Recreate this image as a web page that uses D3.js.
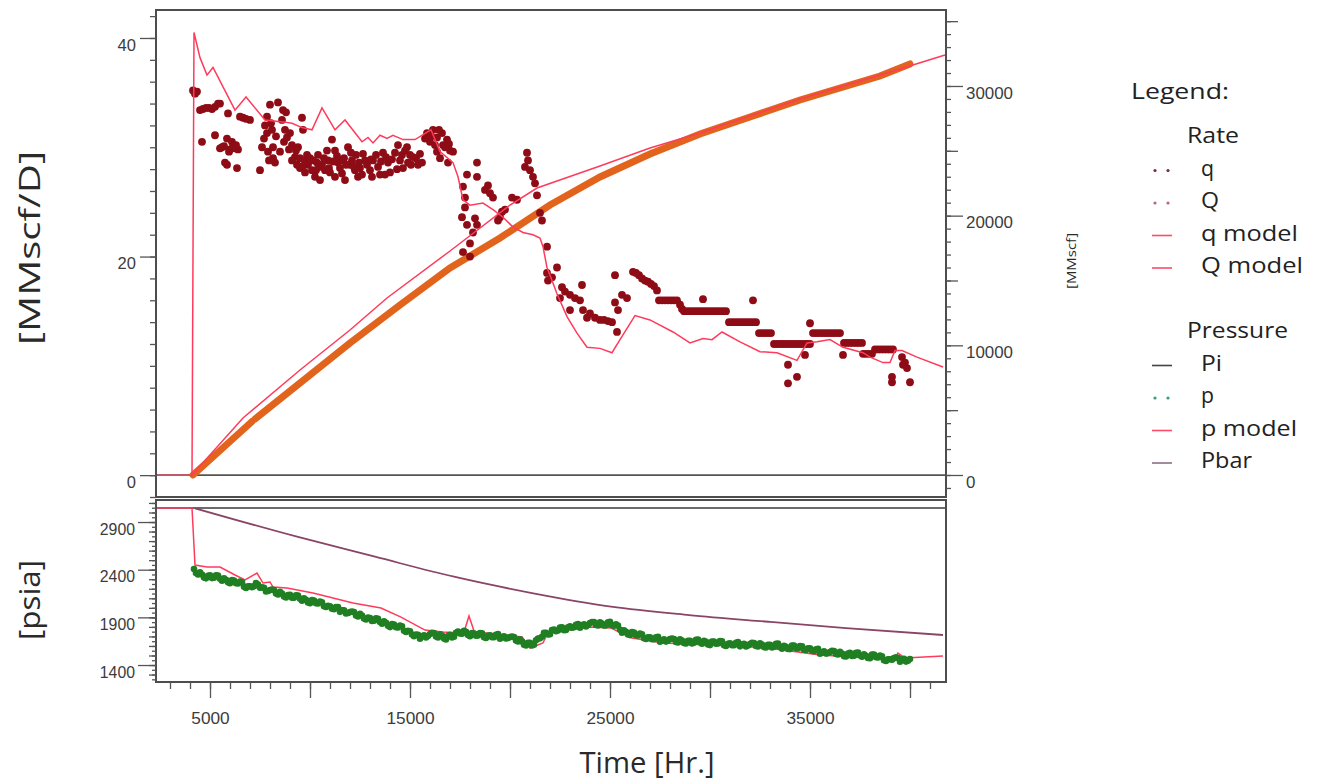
<!DOCTYPE html>
<html>
<head>
<meta charset="utf-8">
<script src="https://cdn.jsdelivr.net/npm/d3@7/dist/d3.min.js"></script>
<style>
  body { margin: 0; background: #fff; }
  svg { display: block; }
</style>
</head>
<body>
<svg id="chart" width="1319" height="782"></svg>
<script>
// ---------- data ----------
// gas rate measurements [time hr, MMscf/D]
const qData = [
  [4150,35.2],[4250,34.9],[4350,35.1],
  [4500,33.4],[4650,33.5],[4800,33.6],[4950,33.6],[5100,33.5],[5250,33.7],[5400,34.0],[5500,34.0],
  [5900,33.1],[6500,32.8],[6650,32.7],[6800,32.6],[7000,32.5],
  [4600,30.5],[5250,31.1],[5500,29.9],[5700,30.1],[5850,30.8],[6000,29.8],[6100,30.5],[6250,29.9],[6400,29.8],
  [5600,30.0],[5950,29.6],[6150,30.0],[6300,30.2],
  [5750,28.6],[5850,28.4],[6350,28.1],
  [7500,27.9],[7600,30.0],[7850,31.3],[8000,33.9],[7850,32.8],[7750,32.0],[8150,30.0],[8150,29.0],[8250,28.6],[7700,30.8],[7900,29.6],
  [8050,32.2],[8300,31.0],[8500,29.6],[8700,30.5],[8950,29.8],[7950,28.8],[8100,31.6],
  [8400,34.1],[8650,33.4],[8600,32.5],[8750,31.6],[8850,30.9],[9000,31.3],[9100,30.2],[8800,33.2],
  [9600,32.7],[9650,31.6],[9400,30.0],[9250,29.1],[9500,29.0],[9750,28.8],[10000,29.0],[10350,28.6],[10250,27.3],[10500,27.0],
  [10750,27.9],[10900,28.8],[11100,30.7],[11250,29.7],[11400,28.6],[11600,27.6],[11250,27.3],[11750,27.0],[11900,30.0],
  [12100,28.8],[12250,27.9],[12400,27.3],[12750,28.8],[13000,27.9],[13100,27.3],
  [9900,28.4],[10100,27.9],[10600,28.4],[11000,27.7],[11500,28.1],[12000,28.4],[12500,28.1],[12600,27.5],[9500,28.1],
  [9750,27.7],[9300,29.7],[10400,29.3],[10850,29.7],[11700,29.0],[12300,29.3],[9100,28.8],
  [9350,28.4],[9650,28.3],[9850,29.3],[10150,28.8],[10300,27.9],[10450,28.2],[10700,29.0],[10950,28.1],[11150,28.7],
  [11350,29.2],[11550,28.8],[11800,28.4],[12050,29.5],[12200,28.2],[12450,28.6],[12650,29.4],[12850,28.4],[13050,28.9],
  [13150,28.8],[13400,28.2],[13650,29.5],[13750,27.5],[14000,27.7],[13300,29.3],[13500,27.5],[13900,28.6],
  [13550,28.7],[13800,29.1],[14100,28.9],[14350,28.0],[14600,29.3],[14850,30.0],[15050,28.4],[15300,29.0],[15500,29.4],
  [14250,29.5],[14500,28.8],[14750,29.7],[14900,28.6],[15150,29.1],[15400,28.4],[15600,28.6],[14400,30.2],[15000,29.3],[14650,28.1],
  [15850,31.3],[16000,30.5],[16350,30.9],[16600,31.3],[16850,30.7],[17000,29.7],[17150,29.6],[16900,28.6],[16350,29.6],
  [16650,30.2],[16150,31.6],[15750,30.8],
  [16050,31.0],[16250,30.2],[16450,31.6],[16750,30.0],[16500,29.0],[16950,30.3],
  [17650,26.4],[17750,25.4],[17750,24.5],[17600,23.6],[17850,22.9],[18350,28.6],[17850,27.5],[18350,27.3],[18000,21.2],
  [17650,20.4],[18000,20.0],[18250,23.5],[18350,22.9],[18150,22.2],
  [18750,26.1],[19000,25.8],[19150,25.4],[18900,26.5],
  [19500,23.6],[19750,24.3],[19600,24.1],[19400,23.3],
  [20100,25.4],[20350,25.2],
  [20850,29.5],[20750,28.2],[21000,27.9],[21150,27.3],[21250,26.7],[21350,25.6],[21500,24.0],[21600,23.3],[20900,28.8],
  [21850,20.9],[21850,18.5],[21900,17.8],[22100,18.1],[22350,19.0],[22600,17.2],
  [22750,16.8],[23000,16.5],[23250,16.2],[23500,16.0],[23600,17.4],[22500,16.2],[23000,15.1],
  [23650,15.1],[23850,14.4],[24000,14.8],[24250,14.4],[24500,14.2],[24700,14.2],[24900,14.1],[25100,14.0],[25350,13.1],
  [25250,18.3],[25250,15.8],[25400,15.1],[25600,16.5],[25850,16.2],
  [26150,18.6],[26300,18.5],[26450,18.3],[26600,18.0],[26750,17.8],[26900,17.7],[27050,17.5],[27200,17.3],[27350,16.9],
  [27450,16.0],[27600,16.0],[27750,16.0],[27900,16.0],[28050,16.0],[28200,16.0],[28350,16.0],
  [28500,15.6],[28600,15.2],
  [28700,15.0],[28850,15.0],[29000,15.0],[29150,15.0],[29300,15.0],[29450,15.0],[29600,15.0],[29750,15.0],[29900,15.0],
  [30050,15.0],[30200,15.0],[30350,15.0],[30500,15.0],[30650,15.0],[30800,15.0],
  [29650,16.1],
  [30950,14.0],[31100,14.0],[31250,14.0],[31400,14.0],[31550,14.0],[31700,14.0],[31850,14.0],[32000,14.0],[32150,14.0],[32300,14.0],
  [32150,16.0],
  [32450,13.0],[32600,13.0],[32750,13.0],[32900,13.0],[33050,13.0],
  [33200,12.0],[33350,12.0],[33500,12.0],[33650,12.0],[33800,12.0],[33950,12.0],[34100,12.0],[34250,12.0],[34400,12.0],
  [34550,12.0],[34700,12.0],[34850,12.0],[35000,12.0],
  [35000,13.9],[34750,11.0],[33900,10.1],[34350,9.0],[33900,8.4],
  [35150,13.0],[35300,13.0],[35450,13.0],[35600,13.0],[35750,13.0],[35900,13.0],[36050,13.0],[36200,13.0],[36350,13.0],[36500,13.0],
  [36650,11.0],
  [36700,12.1],[36850,12.1],[37000,12.1],[37150,12.1],[37300,12.1],[37450,12.1],[37600,12.1],
  [37650,11.1],[37800,11.1],[37950,11.1],[38100,11.1],
  [38250,11.5],[38400,11.5],[38550,11.5],[38700,11.5],[38850,11.5],[39000,11.5],[39150,11.5],
  [39100,9.0],[39100,8.5],[39600,10.8],[39650,10.1],[39850,9.8],[40000,8.5],[39750,10.3]
];

// rate model [time hr, MMscf/D]
const qModel = [
  [2300,0],[4100,0],[4200,40.5],[4500,38.2],[4850,36.6],[5150,37.3],[6250,33.4],[6800,34.6],[7750,32.5],[8750,32.3],
  [9100,32.2],[9600,31.8],[10100,31.6],[10600,33.6],[11250,31.6],[11750,32.5],[12600,30.5],[12900,30.9],[13150,30.4],
  [13500,31.1],[13850,30.8],[14150,31.1],[14650,30.7],[15250,30.7],[16050,31.6],[16500,29.6],[17150,28.6],[17400,27.3],
  [17650,25.2],[18000,24.7],[18650,24.9],[19150,24.3],[19650,23.6],[20150,22.7],[20650,22.2],[21150,22.0],[21500,21.7],
  [21650,20.9],[21850,19.0],[22100,17.8],[22350,16.6],[22850,14.5],[23350,13.0],[23850,11.7],[24500,11.6],[25100,11.2],
  [25500,12.4],[26250,14.6],[27000,14.2],[28150,13.1],[29000,12.1],[29650,12.5],[30100,12.4],[30600,13.1],[31500,12.2],
  [32500,11.3],[33350,11.2],[34350,10.5],[34850,12.1],[35350,12.2],[36000,12.4],[36650,11.7],[37650,11.2],[38000,10.8],
  [38650,10.3],[39000,10.3],[39250,11.4],[39600,11.4],[40350,10.8],[41650,9.9]
];

// cumulative production [time hr, MMscf]; null marks a gap in the record
const cumData = [
  [4150,0],[7100,4126],[7175,null],[7250,4319],[9500,7095],[12000,10180],[14500,13110],
  [17000,15964],[19500,18277],[22000,20822],[24500,22982],[27000,24756],[29500,26298],[32000,27609],
  [34500,28920],[37000,30077],[38500,30771],[40000,31700]
];

// cumulative model [time hr, MMscf]
const cumModel = [
  [4100,0],[6650,4396],[9500,8098],[12000,11182],[13850,13650],[17000,17275],[20000,20822],[21350,22133],
  [24500,23830],[27000,25218],[29500,26375],[32000,27686],[34500,28997],[37000,30154],[39500,31311],[41750,32390]
];

// initial pressure, psia
const piValue = 3047;

// measured flowing pressure [time hr, psia]
const pData = [
  [4200,2406],[4400,2350],[4600,2349],[4800,2309],[5000,2340],[5200,2315],[5400,2338],[5600,2284],[5800,2295],[6000,2259],
  [6200,2286],[6400,2255],[6600,2268],[6800,2209],[7000,2226],[7200,2227],[7400,2245],[7600,2215],[7800,2171],[8000,2186],
  [8200,2186],[8400,2140],[8600,2150],[8800,2109],[9000,2136],[9200,2105],[9400,2128],[9600,2074],[9800,2085],[10000,2049],
  [10200,2076],[10400,2045],[10600,2058],[10800,2009],[11000,2016],[11200,1986],[11400,2009],[11600,1974],[11800,1940],[12000,1955],
  [12200,1955],[12400,1909],[12600,1919],[12800,1878],[13000,1894],[13200,1864],[13400,1886],[13600,1833],[13800,1844],[14000,1798],
  [14200,1824],[14400,1794],[14600,1806],[14800,1747],[15000,1754],[15200,1703],[15400,1716],[15600,1701],[15800,1688],[16000,1725],
  [16200,1735],[16400,1689],[16600,1709],[16800,1669],[17000,1716],[17200,1696],[17400,1750],[17600,1728],[17800,1749],[18000,1703],
  [18200,1730],[18400,1710],[18600,1733],[18800,1684],[19000,1712],[19200,1692],[19400,1726],[19600,1691],[19800,1678],[20000,1693],
  [20200,1693],[20400,1647],[20600,1646],[20800,1606],[21000,1632],[21200,1612],[21400,1677],[21600,1697],[21800,1739],[22000,1724],
  [22200,1772],[22400,1762],[22600,1796],[22800,1768],[23000,1807],[23200,1797],[23400,1831],[23600,1817],[23800,1804],[24000,1840],
  [24200,1850],[24400,1815],[24600,1835],[24800,1816],[25000,1853],[25200,1812],[25400,1813],[25600,1739],[25800,1749],[26000,1714],
  [26200,1740],[26400,1710],[26600,1722],[26800,1674],[27000,1691],[27200,1671],[27400,1695],[27600,1659],[27800,1646],[28000,1672],
  [28200,1672],[28400,1637],[28600,1657],[28800,1627],[29000,1653],[29200,1633],[29400,1666],[29600,1623],[29800,1644],[30000,1609],
  [30200,1646],[30400,1626],[30600,1649],[30800,1600],[31000,1628],[31200,1608],[31400,1642],[31600,1617],[31800,1594],[32000,1620],
  [32200,1630],[32400,1595],[32600,1615],[32800,1585],[33000,1611],[33200,1591],[33400,1624],[33600,1571],[33800,1592],[34000,1567],
  [34200,1604],[34400,1573],[34600,1596],[34800,1558],[35000,1576],[35200,1545],[35400,1569],[35600,1533],[35800,1520],[36000,1536],
  [36200,1546],[36400,1511],[36600,1520],[36800,1490],[37000,1527],[37200,1497],[37400,1530],[37600,1487],[37800,1497],[38000,1472],
  [38200,1509],[38400,1479],[38600,1491],[38800,1443],[39000,1460],[39200,1472],[39400,1474],[39600,1460],[39800,1436],[40000,1462],
  [4300,2366],[4500,2373],[4700,2317],[4900,2337],[5100,2312],[5300,2342],[5500,2304],[5700,2309],[5900,2267],[6100,2292],
  [6300,2258],[6500,2275],[6700,2222],[6900,2226],[7100,2217],[7300,2259],[7500,2210],[7700,2211],[7900,2176],[8100,2193],
  [8300,2151],[8500,2168],[8700,2118],[8900,2135],[9100,2105],[9300,2132],[9500,2094],[9700,2099],[9900,2057],[10100,2082],
  [10300,2048],[10500,2065],[10700,2017],[10900,2021],[11100,1991],[11300,2007],[11500,1958],[11700,1975],[11900,1945],[12100,1962],
  [12300,1920],[12500,1937],[12700,1887],[12900,1899],[13100,1863],[13300,1891],[13500,1852],[13700,1858],[13900,1811],[14100,1831],
  [14300,1796],[14500,1814],[14700,1760],[14900,1759],[15100,1719],[15300,1719],[15500,1675],[15700,1712],[15900,1704],[16100,1737],
  [16300,1700],[16500,1722],[16700,1677],[16900,1705],[17100,1690],[17300,1739],[17500,1732],[17700,1758],[17900,1716],[18100,1736],
  [18300,1707],[18500,1735],[18700,1692],[18900,1706],[19100,1692],[19300,1718],[19500,1675],[19700,1702],[19900,1683],[20100,1700],
  [20300,1658],[20500,1670],[20700,1614],[20900,1632],[21100,1606],[21300,1660],[21500,1680],[21700,1738],[21900,1721],[22100,1768],
  [22300,1754],[22500,1793],[22700,1765],[22900,1796],[23100,1792],[23300,1823],[23500,1791],[23700,1828],[23900,1819],[24100,1852],
  [24300,1820],[24500,1848],[24700,1814],[24900,1847],[25100,1817],[25300,1828],[25500,1769],[25700,1764],[25900,1721],[26100,1747],
  [26300,1712],[26500,1730],[26700,1681],[26900,1691],[27100,1671],[27300,1692],[27500,1644],[27700,1670],[27900,1656],[28100,1679],
  [28300,1642],[28500,1670],[28700,1630],[28900,1653],[29100,1627],[29300,1665],[29500,1637],[29700,1653],[29900,1616],[30100,1647],
  [30300,1623],[30500,1651],[30700,1608],[30900,1622],[31100,1608],[31300,1634],[31500,1596],[31700,1623],[31900,1604],[32100,1632],
  [32300,1600],[32500,1628],[32700,1588],[32900,1611],[33100,1585],[33300,1623],[33500,1590],[33700,1601],[33900,1569],[34100,1605],
  [34300,1576],[34500,1598],[34700,1560],[34900,1575],[35100,1551],[35300,1566],[35500,1518],[35700,1544],[35900,1525],[36100,1548],
  [36300,1516],[36500,1539],[36700,1493],[36900,1521],[37100,1496],[37300,1529],[37500,1501],[37700,1512],[37900,1474],[38100,1510],
  [38300,1481],[38500,1499],[38700,1450],[38900,1460],[39100,1456],[39300,1482],[39500,1434],[39700,1466],[39900,1446]
];

// pressure model [time hr, psia]
const pModel = [
  [2300,3047],[4100,3047],[4250,2449],[4850,2428],[5500,2428],[6250,2344],[6750,2292],[7350,2365],[7650,2260],[8000,2271],
  [8150,2218],[8850,2208],[10150,2155],[12150,2050],[13550,1998],[14550,1903],[15750,1767],[16650,1746],[17450,1736],
  [17700,1746],[17950,1914],[18200,1757],[18350,1746],[19800,1715],[20600,1694],[21000,1578],[21650,1631],[21900,1746],
  [22950,1767],[24000,1799],[25050,1788],[26100,1683],[27650,1631],[30250,1610],[32900,1578],[35500,1505],[38100,1473],
  [39150,1442],[39400,1526],[39750,1473],[41650,1494]
];

// average reservoir pressure [time hr, psia]
const pbarModel = [
  [4250,3044],[9350,2746],[13250,2536],[17200,2326],[21100,2155],[25050,2012],[28950,1924],[32900,1854],[36800,1788],[41650,1715]
];

// axis tick labels
const rateTickLabels = [0, 20, 40];
const cumTickLabels = [0, 10000, 20000, 30000];
const pressureTickLabels = [1400, 1900, 2400, 2900];
const timeTickLabels = [5000, 15000, 25000, 35000];

// legend entries
const legendGroups = [
  { title: "Rate", items: [
    { label: "q", kind: "dots", color: "#7a2a3a" },
    { label: "Q", kind: "dots", color: "#b86878" },
    { label: "q model", kind: "line", color: "#ff4a6a" },
    { label: "Q model", kind: "line", color: "#ff4a6a" }
  ]},
  { title: "Pressure", items: [
    { label: "Pi", kind: "line", color: "#444" },
    { label: "p", kind: "dots", color: "#3a9a80" },
    { label: "p model", kind: "line", color: "#ff4a6a" },
    { label: "Pbar", kind: "line", color: "#8a7080" }
  ]}
];

// ---------- layout ----------
const svg = d3.select("#chart");
const left = 156, right = 946;
const top1 = 10, bot1 = 497;   // rate panel
const top2 = 500, bot2 = 682;  // pressure panel
const FONT = "'Open Sans', 'Noto Sans', sans-serif";
const TICKFONT = "'Liberation Sans', Arial, sans-serif";
const modelColor = "#ff3b5c";
const plain = d3.format("d");

const x = d3.scaleLinear().domain([2300, 41750]).range([left, 945]);
const yRate = d3.scaleLinear().domain([-2.0, 42.56]).range([bot1, top1]);
const yCum = d3.scaleLinear().domain([-1697, 35860]).range([bot1, top1]);
const yP = d3.scaleLinear().domain([1222, 3131]).range([bot2, top2]);

const defs = svg.append("defs");
defs.append("clipPath").attr("id", "clipTop")
  .append("rect").attr("x", left).attr("y", top1).attr("width", right - left).attr("height", bot1 - top1);
defs.append("clipPath").attr("id", "clipBot")
  .append("rect").attr("x", left).attr("y", top2).attr("width", right - left).attr("height", bot2 - top2);

// ---------- rate panel ----------
const gTop = svg.append("g").attr("clip-path", "url(#clipTop)");

// zero baseline
gTop.append("line")
  .attr("x1", left).attr("x2", right)
  .attr("y1", yRate(0)).attr("y2", yRate(0))
  .attr("stroke", "#555").attr("stroke-width", 1.6);

// cumulative production (dense orange band)
gTop.append("path")
  .datum(cumData)
  .attr("fill", "none")
  .attr("stroke", "#e2641c")
  .attr("stroke-width", 7)
  .attr("stroke-linecap", "round")
  .attr("d", d3.line().defined(d => d[1] !== null).x(d => x(d[0])).y(d => yCum(d[1])));

// rate points
gTop.append("g").selectAll("circle")
  .data(qData).join("circle")
  .attr("cx", d => x(d[0])).attr("cy", d => yRate(d[1]))
  .attr("r", 3.9)
  .attr("fill", "#8e0c16");

// cumulative model
gTop.append("path")
  .datum(cumModel)
  .attr("fill", "none").attr("stroke", modelColor).attr("stroke-width", 1.5)
  .attr("d", d3.line().x(d => x(d[0])).y(d => yCum(d[1])));

// rate model
gTop.append("path")
  .datum(qModel)
  .attr("fill", "none").attr("stroke", modelColor).attr("stroke-width", 1.5)
  .attr("d", d3.line().x(d => x(d[0])).y(d => yRate(d[1])));

// ---------- pressure panel ----------
const gBot = svg.append("g").attr("clip-path", "url(#clipBot)");

gBot.append("line")
  .attr("x1", left).attr("x2", right)
  .attr("y1", yP(piValue)).attr("y2", yP(piValue))
  .attr("stroke", "#3a3a3a").attr("stroke-width", 1.6);

gBot.append("path")
  .datum(pbarModel)
  .attr("fill", "none").attr("stroke", "#8a4466").attr("stroke-width", 1.8)
  .attr("d", d3.line().x(d => x(d[0])).y(d => yP(d[1])).curve(d3.curveMonotoneX));

gBot.append("path")
  .datum(pModel)
  .attr("fill", "none").attr("stroke", modelColor).attr("stroke-width", 1.5)
  .attr("d", d3.line().x(d => x(d[0])).y(d => yP(d[1])));

gBot.append("g").selectAll("circle")
  .data(pData).join("circle")
  .attr("cx", d => x(d[0])).attr("cy", d => yP(d[1]))
  .attr("r", 3.3)
  .attr("fill", "#1f7f22");

// ---------- frames ----------
[[top1, bot1], [top2, bot2]].forEach(([t, b]) => {
  svg.append("rect")
    .attr("x", left).attr("y", t).attr("width", right - left).attr("height", b - t)
    .attr("fill", "none").attr("stroke", "#4d4d4d").attr("stroke-width", 2);
});

// ---------- axes ----------
function styleAxis(g, fontSize, digitW, dy) {
  g.select(".domain").remove();
  g.selectAll("line").attr("stroke", "#555").attr("stroke-width", 1.3);
  const t = g.selectAll("text")
    .attr("font-family", TICKFONT)
    .attr("font-size", fontSize)
    .attr("fill", "#3c3c3c")
    .attr("textLength", d => plain(d).length * digitW)
    .attr("lengthAdjust", "spacingAndGlyphs");
  if (dy) t.attr("dy", dy);
}
function minorAxis(axis, values, size) {
  return axis.tickValues(values).tickSize(size).tickFormat("").tickSizeOuter(0);
}
function majorAxis(axis, values, size, pad) {
  return axis.tickValues(values).tickSize(size).tickPadding(pad).tickFormat(plain).tickSizeOuter(0);
}

// left rate axis
svg.append("g").attr("transform", `translate(${left},0)`)
  .call(minorAxis(d3.axisLeft(yRate), d3.range(-2, 43, 2), 6))
  .call(g => styleAxis(g, 17, 9.2));
svg.append("g").attr("transform", `translate(${left},0)`)
  .call(majorAxis(d3.axisLeft(yRate), rateTickLabels, 16, 4))
  .call(g => styleAxis(g, 17, 9.2, "0.72em"));

// right cumulative axis
svg.append("g").attr("transform", `translate(${right},0)`)
  .call(minorAxis(d3.axisRight(yCum), d3.range(-1000, 35001, 1000), 5))
  .call(g => styleAxis(g, 17, 9.4));
svg.append("g").attr("transform", `translate(${right},0)`)
  .call(minorAxis(d3.axisRight(yCum), d3.range(5000, 35001, 10000), 12))
  .call(g => styleAxis(g, 17, 9.4));
svg.append("g").attr("transform", `translate(${right},0)`)
  .call(majorAxis(d3.axisRight(yCum), cumTickLabels, 17, 3))
  .call(g => styleAxis(g, 17, 9.4, "0.72em"));

// left pressure axis
svg.append("g").attr("transform", `translate(${left},0)`)
  .call(minorAxis(d3.axisLeft(yP), d3.range(1250, 3101, 50), 4))
  .call(g => styleAxis(g, 17, 8.8));
svg.append("g").attr("transform", `translate(${left},0)`)
  .call(minorAxis(d3.axisLeft(yP), d3.range(1300, 3101, 100), 7))
  .call(g => styleAxis(g, 17, 8.8));
svg.append("g").attr("transform", `translate(${left},0)`)
  .call(majorAxis(d3.axisLeft(yP), pressureTickLabels, 18, 3))
  .call(g => styleAxis(g, 17, 8.8, "0.72em"));

// time axis
svg.append("g").attr("transform", `translate(0,${bot2})`)
  .call(minorAxis(d3.axisBottom(x), d3.range(3000, 41001, 1000), 7))
  .call(g => styleAxis(g, 17, 9.6));
svg.append("g").attr("transform", `translate(0,${bot2})`)
  .call(minorAxis(d3.axisBottom(x), d3.range(10000, 40001, 10000), 16))
  .call(g => styleAxis(g, 17, 9.6));
svg.append("g").attr("transform", `translate(0,${bot2})`)
  .call(majorAxis(d3.axisBottom(x), timeTickLabels, 16, 14))
  .call(g => styleAxis(g, 17, 9.6));

// ---------- axis titles ----------
function title(txt, px, py, size, len, rot) {
  svg.append("text")
    .attr("transform", `translate(${px},${py}) rotate(${rot})`)
    .attr("text-anchor", "middle")
    .attr("font-family", FONT)
    .attr("font-size", size)
    .attr("fill", "#2a2a2a")
    .attr("textLength", len)
    .attr("lengthAdjust", "spacingAndGlyphs")
    .text(txt);
}
title("[MMscf/D]", 40, 248, 30, 194, -90);
title("[psia]", 40, 600, 30, 80, -90);
title("[MMscf]", 1076, 261, 13, 56, -90);
title("Time [Hr.]", 647, 773, 29, 135, 0);

// ---------- legend ----------
const lg = svg.append("g").attr("font-family", FONT).attr("fill", "#222");
lg.append("text").attr("x", 1131).attr("y", 99).attr("font-size", 21)
  .attr("textLength", 98).attr("lengthAdjust", "spacingAndGlyphs").text("Legend:");

const itemLen = { "q": 13, "Q": 18, "q model": 97, "Q model": 102, "Pi": 21, "p": 13, "p model": 96, "Pbar": 51 };
const titleLen = { "Rate": 52, "Pressure": 101 };
const groupTop = [143, 338];
legendGroups.forEach((grp, gi) => {
  const y0 = groupTop[gi];
  lg.append("text").attr("x", 1187).attr("y", y0).attr("font-size", 21)
    .attr("textLength", titleLen[grp.title]).attr("lengthAdjust", "spacingAndGlyphs").text(grp.title);
  grp.items.forEach((it, i) => {
    const by = y0 + 32.5 * (i + 1);
    lg.append("text").attr("x", 1201).attr("y", by).attr("font-size", 21)
      .attr("textLength", itemLen[it.label]).attr("lengthAdjust", "spacingAndGlyphs").text(it.label);
    const sy = by - 5;
    if (it.kind === "dots") {
      [1155, 1168].forEach(cx => lg.append("circle").attr("cx", cx).attr("cy", sy).attr("r", 1.6).attr("fill", it.color));
    } else {
      lg.append("line").attr("x1", 1152).attr("x2", 1172).attr("y1", sy).attr("y2", sy)
        .attr("stroke", it.color).attr("stroke-width", 1.6);
    }
  });
});
</script>
</body>
</html>
